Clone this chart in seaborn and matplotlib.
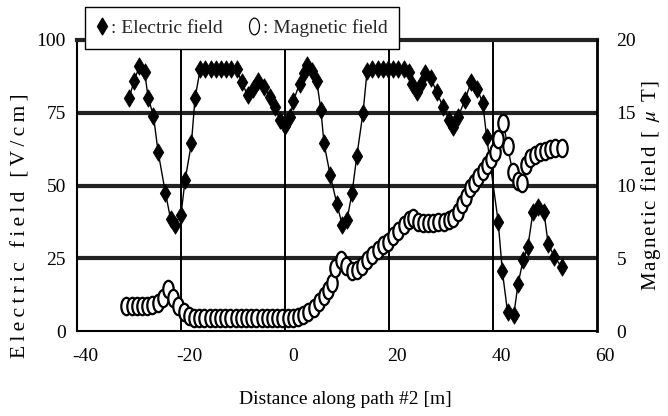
import numpy as np
import pandas as pd
import matplotlib
matplotlib.use("Agg")
import matplotlib.pyplot as plt
import seaborn as sns
from matplotlib.path import Path
from matplotlib.transforms import Affine2D, ScaledTranslation
from matplotlib.lines import Line2D

# ---- data ----
e_dist = [-30, -29, -28, -27, -26.3, -25.3, -24.4, -23, -22, -21.2, -20, -19.2, -18, -17.3,
          -16.3, -15.3, -14.3, -13.3, -12.3, -11.3, -10.3, -9.3,
          -8.3, -7.2, -6.2, -5.1, -4, -2.9, -1.9, -1, 0, 1, 1.6, 2.8, 3.6, 4.2, 5.2, 6.1,
          6.9, 7.5, 8.7, 10, 11, 11.9, 12.9, 13.8, 15, 15.8,
          16.8, 17.8, 18.8, 19.8, 20.8, 21.8, 22.8,
          23.8, 24.5, 25.4, 26.2, 27, 28, 29.2, 30.4, 31.6, 32.3, 33.3, 34.6, 35.8, 37, 38,
          38.8, 41, 41.8, 42.8, 44, 44.8, 45.8, 46.7, 47.7, 48.6, 49.8, 50.6, 51.8, 53.2]
e_field = [80, 86, 91, 89, 80, 74, 61.5, 47.5, 38.5, 36.5, 40, 52, 64.5, 80,
           90, 90, 90, 90, 90, 90, 90, 90,
           85.5, 81, 83, 86, 84, 80.5, 77, 72.5, 70.5, 73.5, 79, 85, 88.5, 91.5, 89.5, 86,
           76, 64.5, 53.5, 43.5, 36.5, 38, 47.5, 60, 75, 89.5,
           90, 90, 90, 90, 90, 90, 90,
           89, 85, 82, 85, 88.5, 87, 82, 77, 72.5, 70, 73.5, 79.5, 85.5, 83, 78.5,
           66.5, 37.5, 20.5, 6.5, 5.5, 16, 24.5, 29, 41, 42.5, 41, 30, 25.5, 22]

m_dist = [-30.5, -29.5, -28.5, -27.5, -26.5, -25.5, -24.5, -23.5, -22.5, -21.5, -20.5,
          -19.5, -18.5, -17.5, -16.5, -15.5, -14.5, -13.5, -12.5, -11.5, -10.5, -9.5,
          -8.5, -7.5, -6.5, -5.5, -4.5, -3.5, -2.5, -1.5, -0.5, 0.5, 1.5,
          2.5, 3.5, 4.5, 5.5, 6.5, 7.5, 8.3, 9, 9.7, 10.8, 11.8, 12.8, 13.8, 14.8,
          15.8, 16.8, 17.8, 18.8, 19.8, 20.8, 21.8, 22.8, 23.8, 24.6, 25.5, 26.5,
          27.5, 28.5, 29.5, 30.5, 31.5, 32.3, 33.2, 34, 34.8, 35.6, 36.4, 37.2, 38,
          38.8, 39.6, 40.4, 41, 42, 42.8, 43.8, 44.8, 45.6, 46.4, 47.2, 48, 49, 50,
          51, 52, 53.2]
m_field = [1.7, 1.7, 1.7, 1.75, 1.75, 1.8, 1.9, 2.3, 2.9, 2.3, 1.7,
           1.3, 1.0, 0.9, 0.9, 0.9, 0.9, 0.9, 0.9, 0.9, 0.9, 0.9,
           0.9, 0.9, 0.9, 0.9, 0.9, 0.9, 0.9, 0.9, 0.9, 0.9, 0.9,
           0.95, 1.1, 1.3, 1.6, 2.0, 2.4, 2.8, 3.3, 4.3, 4.9, 4.5, 4.1, 4.2, 4.45,
           4.9, 5.2, 5.6, 5.9, 6.1, 6.5, 6.9, 7.3, 7.6, 7.8, 7.5, 7.4,
           7.4, 7.4, 7.5, 7.5, 7.6, 7.8, 8.2, 8.7, 9.2, 9.8, 10.2, 10.6, 11.0,
           11.4, 11.8, 12.3, 13.2, 14.3, 12.7, 10.9, 10.3, 10.2, 11.4, 11.9, 12.1,
           12.3, 12.4, 12.5, 12.6, 12.6]

x_ticks = [-40, -20, 0, 20, 40, 60]
e_ticks = [0, 25, 50, 75, 100]
m_ticks = [0, 5, 10, 15, 20]

# ---- style ----
sns.set_theme(style="white")
plt.rcParams["font.family"] = ["Liberation Serif", "DejaVu Serif"]
plt.rcParams["mathtext.fontset"] = "stix"

diamond = Path([(0, 1), (0.6, 0), (0, -1), (-0.6, 0), (0, 1)],
               [Path.MOVETO, Path.LINETO, Path.LINETO, Path.LINETO, Path.CLOSEPOLY])
ellipse = Path.unit_circle().transformed(Affine2D().scale(0.6, 1.0))

W, H = 668, 416
fig = plt.figure(figsize=(W / 100, H / 100), dpi=100)
ax = fig.add_axes([77 / W, 1 - 331 / H, (597 - 77) / W, (331 - 40) / H])
ax2 = ax.twinx()

e_df = pd.DataFrame({"dist": e_dist, "field": e_field})
m_df = pd.DataFrame({"dist": m_dist, "field": m_field})

sns.lineplot(data=e_df, x="dist", y="field", ax=ax, color="black", lw=1.0,
             marker=diamond, markersize=12.5, markerfacecolor="black",
             markeredgecolor="black", markeredgewidth=0.6,
             estimator=None, sort=False, legend=False, zorder=5)
sns.lineplot(data=m_df, x="dist", y="field", ax=ax2, color="black", lw=1.0,
             marker=ellipse, markersize=12.5, markerfacecolor="white",
             markeredgecolor="black", markeredgewidth=1.6,
             estimator=None, sort=False, legend=False, zorder=5)

ax.set_xlim(-40, 60)
ax.set_ylim(0, 100)
ax2.set_ylim(0, 20)

# grid lines
for yv in e_ticks[1:-1]:
    ax.axhline(yv, color="#222222", lw=3.0, zorder=1)
for xv in x_ticks[1:-1]:
    ax.axvline(xv, color="black", lw=1.4, zorder=1)

for a in (ax, ax2):
    a.set_xlabel("")
    a.set_ylabel("")
    for s in a.spines.values():
        s.set_visible(False)
ax.spines["left"].set_visible(True)
ax.spines["left"].set_linewidth(1.5)
ax.spines["bottom"].set_visible(True)
ax.spines["bottom"].set_linewidth(1.5)
ax.spines["top"].set_visible(True)
ax.spines["top"].set_linewidth(3.0)
ax.spines["top"].set_color("#222222")
ax2.spines["right"].set_visible(True)
ax2.spines["right"].set_linewidth(2.0)
for k in ("left", "bottom"):
    ax.spines[k].set_color("black")
ax2.spines["right"].set_color("black")

ax.set_xticks(x_ticks)
ax.set_xticklabels([str(v) for v in x_ticks])
ax.set_yticks(e_ticks)
ax.set_yticklabels([str(v) for v in e_ticks])
ax2.set_yticks(m_ticks)
ax2.set_yticklabels([str(v) for v in m_ticks])
ax.tick_params(axis="x", length=0, pad=12, labelsize=14, colors="black")
ax.tick_params(axis="y", length=0, pad=8, labelsize=14, colors="black")
ax2.tick_params(axis="y", length=0, pad=14, labelsize=14, colors="black")
off = ScaledTranslation(8 / 100, 0, fig.dpi_scale_trans)
for lab in ax.get_xticklabels():
    lab.set_transform(lab.get_transform() + off)

# axis titles
fig.text(345 / W, 1 - 400 / H, "Distance along path #2 [m]", ha="center",
         va="center", fontsize=14, color="black")
left_lbl = "\u2009".join(list("Electric field [V/cm]"))
fig.text(21 / W, 1 - 226 / H, left_lbl, rotation=90, ha="center", va="center",
         fontsize=15.5, color="black")
parts = list("Magnetic field [ ") + [r"$\mu$"] + list(" T]")
right_lbl = "\u200a".join(parts)
fig.text(651 / W, 1 - 186 / H, right_lbl, rotation=90, ha="center", va="center",
         fontsize=15, color="black")

# legend
h_e = Line2D([], [], linestyle="none", marker=diamond, markersize=12,
             markerfacecolor="black", markeredgecolor="black")
h_m = Line2D([], [], linestyle="none", marker=ellipse, markersize=12,
             markerfacecolor="white", markeredgecolor="black", markeredgewidth=0.9)
leg = ax2.legend([h_e, h_m], [": Electric field", ": Magnetic field"], ncol=2,
                 loc="center", bbox_to_anchor=(242 / W, 1 - 28 / H),
                 bbox_transform=fig.transFigure, frameon=True, fancybox=False,
                 framealpha=1, edgecolor="black", fontsize=14, handlelength=0.6,
                 handletextpad=0.15, columnspacing=1.3, borderpad=0.6,
                 borderaxespad=0)
leg.get_frame().set_linewidth(1.0)
leg.set_zorder(20)

fig.savefig("out.png", dpi=100)
